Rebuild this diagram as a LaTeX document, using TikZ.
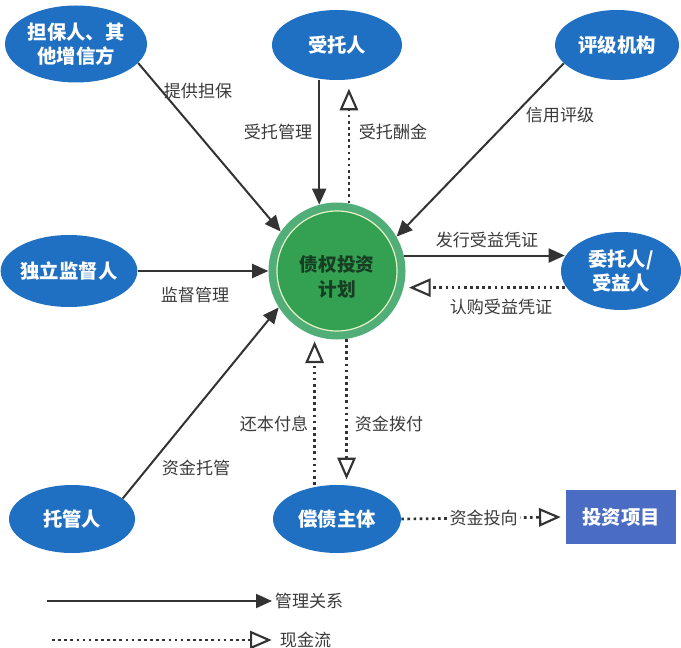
\documentclass[tikz,border=0pt]{standalone}
\usepackage{fontspec}
\setmainfont{Noto Sans CJK SC}
\usetikzlibrary{shapes.geometric,arrows.meta,calc}
\definecolor{nodeblue}{HTML}{1F6FC2}
\definecolor{projblue}{HTML}{4A6CC2}
\definecolor{ringgreen}{HTML}{52AE78}
\definecolor{innergreen}{HTML}{33A052}
\definecolor{paleline}{HTML}{E6F2C4}
\definecolor{darkgreen}{HTML}{173D22}
\definecolor{linegray}{HTML}{333333}
\definecolor{labelgray}{HTML}{3A3A3A}
\tikzset{
  party/.style={ellipse, fill=nodeblue, text=white, inner sep=0pt, align=center,
    font=\fontsize{14.5}{18}\selectfont\bfseries},
  lbl/.style={font=\fontsize{12.8}{14}\selectfont, text=labelgray},
  mgmt/.style={draw=linegray, line width=1.5pt, -{Triangle[length=12pt,width=10.5pt]}},
  cash/.style={draw=linegray, line width=2pt, dash pattern=on 2pt off 2.6pt,
    shorten >=4pt, -{Triangle[open,length=13pt,width=11pt,line width=1.6pt,scale=1.25]}}
}
\begin{document}
\begin{tikzpicture}[x=0.75pt,y=-0.75pt]
\useasboundingbox (0,0) rectangle (681,648);

% central circle
\node[circle, minimum size=102.75pt, inner sep=0pt, fill=ringgreen,
  path picture={\draw[paleline, line width=0.9pt, fill=innergreen]
    (path picture bounding box.center) circle[radius=45pt];}] (plan) at (337,271) {};
\node[font=\fontsize{14}{19}\selectfont\bfseries, text=darkgreen, align=center]
  (plantext) at (337,277) {债权投资\\计划};

% parties
\node[party, minimum width=106.5pt, minimum height=57.75pt] (guar) at (76,44) {担保人、其\\他增信方};
\node[party, minimum width=97.5pt, minimum height=52.5pt] (trustee) at (337,45) {受托人};
\node[party, minimum width=93pt, minimum height=52.5pt] (rating) at (617,45) {评级机构};
\node[party, minimum width=97.5pt, minimum height=54pt] (super) at (69,271) {独立监督人};
\node[party, minimum width=90pt, minimum height=58.5pt] (client) at (621,271) {委托人/\\受益人};
\node[party, minimum width=94.5pt, minimum height=51pt] (cust) at (72,519) {托管人};
\node[party, minimum width=96pt, minimum height=51pt] (debtor) at (337,519) {偿债主体};
\node[fill=projblue, text=white, minimum width=82pt, minimum height=41pt, inner sep=0pt,
  font=\fontsize{14.5}{17}\selectfont\bfseries] (proj) at (621,517) {投资项目};

% connectors
\draw[mgmt] (guar.-17) -- (plan.145);
\draw[mgmt] (trustee.south -| plan.105) -- (plan.105);
\draw[cash] (plan.80) -- ($(trustee.south -| plan.80)+(0,3)$);
\draw[mgmt] (rating.199) -- (plan.30);
\draw[mgmt] (super.east) -- (plan.west);
\draw[mgmt] (plan.13.5) -- ($(plan.13.5 -| client.west)+(4,0)$);
\draw[cash] ($(plan.-14 -| client.west)+(4,0)$) -- (plan.-14);
\draw[mgmt] (cust.22) -- (plan.212);
\draw[cash] (debtor.north -| plan.251) -- (plan.251);
\draw[cash] (plan.278) -- (debtor.north -| plan.278);
\draw[cash] (debtor.east) -- node[lbl, fill=white, inner sep=1.5pt] {资金投向} (proj.west);

% labels
\node[lbl] (l1) at (198,91) {提供担保};
\node[lbl] (l2) at (278,132) {受托管理};
\node[lbl] (l3) at (393,132) {受托酬金};
\node[lbl] (l4) at (560,115) {信用评级};
\node[lbl] (l5) at (195,295) {监督管理};
\node[lbl] (l6) at (487,240) {发行受益凭证};
\node[lbl] (l7) at (501,307) {认购受益凭证};
\node[lbl] (l8) at (196,468) {资金托管};
\node[lbl] (l9) at (274,424) {还本付息};
\node[lbl] (l10) at (389,424) {资金拨付};

% legend
\coordinate (lg1) at (47,601);
\node[lbl, anchor=west, inner sep=2pt] (legm) at (272,601) {管理关系};
\draw[mgmt] (lg1) -- (legm.west);
\coordinate (lg2) at (52,640);
\node[lbl, anchor=west, inner sep=2pt] (legc) at (277,640) {现金流};
\draw[cash] (lg2) -- (legc.west);
\end{tikzpicture}
\end{document}
